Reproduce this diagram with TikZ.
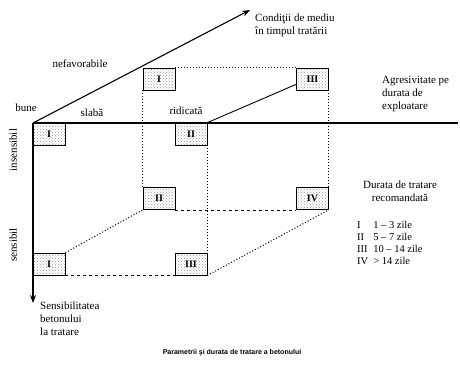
\documentclass[tikz,border=0pt]{standalone}
\usepackage{fontspec}
\setmainfont{Liberation Serif}
\newfontfamily\captionfont{Liberation Sans}
\usetikzlibrary{arrows.meta,positioning,patterns,calc}

\begin{document}
\begin{tikzpicture}[>=Stealth, x=1pt, y=1pt,
  font=\fontsize{11}{13}\selectfont,
  cell/.style={draw, line width=0.7pt, minimum width=32pt, minimum height=22pt, inner sep=0pt,
    pattern=crosshatch dots, pattern color=gray!80, font=\fontsize{10}{10}\selectfont\bfseries},
  axis/.style={line width=1.1pt},
  hidden/.style={line width=1pt, dash pattern=on 1pt off 2pt},
  txt/.style={align=left, inner sep=0pt}]
\useasboundingbox (0,0) rectangle (460,365);
% axes
\coordinate (O) at (33,242);
\coordinate (agr) at (458,242);
\coordinate (med) at (250,355);
\coordinate (sens) at (33,62);
\draw[axis] (O) -- (agr);
\draw[axis,->] (O) -- (med);
\draw[axis,->] (O) -- (sens);
% cells of the cube
\node[cell] (fI)   at (49,231)    {I};
\node[cell] (fII)  at (191,231)   {II};
\node[cell] (bI)   at (159,286)   {I};
\node[cell] (bIII) at (312.5,286) {III};
\node[cell] (mII)  at (159,166.5) {II};
\node[cell] (mIV)  at (312.5,166.5) {IV};
\node[cell] (lI)   at (49,101)    {I};
\node[cell] (lIII) at (191,101)   {III};
% edges
\draw[line width=0.9pt] (fII.north east) -- ([yshift=6pt]bIII.south west);
\draw[hidden] (bI.north east) -- (bIII.north west);
\draw[hidden] (bI.south west) -- (mII.north west);
\draw[hidden] (bIII.south east) -- (mIV.north east);
\draw[dashed] (mII.south east) -- (mIV.south west);
\draw[hidden] (fII.south east) -- (lIII.north east);
\draw[dashed] (lI.south east) -- (lIII.south west);
\draw[hidden] (lI.north east) -- (mII.south west);
\draw[hidden] (lIII.south east) -- (mIV.south east);
% labels
\node[txt, anchor=north west] (tmed) at (255,351) {Condiţii de mediu\\în timpul tratării};
\node (tnef) at (80,301) {nefavorabile};
\node (tbune) at (26,257) {bune};
\node (tslab) at (92,252) {slabă};
\node (tridic) at (186,254) {ridicată};
\node[txt, anchor=north west] (tagr) at (382,289) {Agresivitate pe\\durata de\\exploatare};
\node[align=center, inner sep=0pt] (tdur) at (400,174) {Durata de tratare\\recomandată};
\node[txt, anchor=north west, font=\fontsize{10.5}{12}\selectfont] (tleg) at (357,145)
  {\begin{tabular}{@{}l@{\hspace{5pt}}l@{}}
   I & 1 -- 3 zile\\ II & 5 -- 7 zile\\ III & 10 -- 14 zile\\ IV & > 14 zile
   \end{tabular}};
\node[rotate=90] (tins) at (13,215) {insensibil};
\node[rotate=90] (tsen) at (13,120) {sensibil};
\node[txt, anchor=north west] (tsens) at (40,63) {Sensibilitatea\\betonului\\la tratare};
\node (tcap) at (232,12) {\captionfont\fontsize{7}{8}\selectfont\bfseries Parametrii şi durata de tratare a betonului};
\end{tikzpicture}
\end{document}
